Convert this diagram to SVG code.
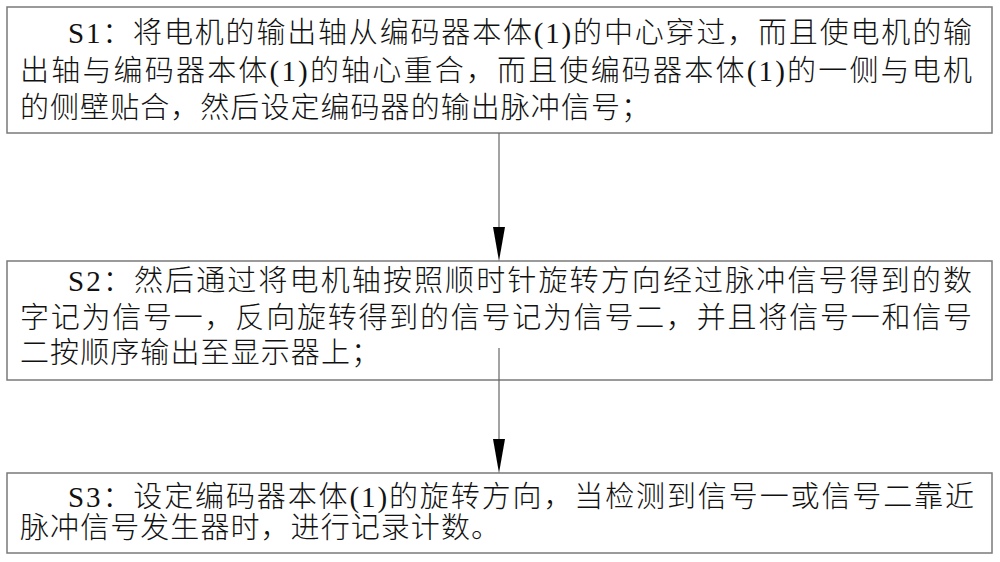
<svg xmlns="http://www.w3.org/2000/svg" width="1000" height="562" viewBox="0 0 1000 562">
<style>
.box{fill:#fff;stroke:#7a7a7a;stroke-width:1.5}
.t{font-family:"Liberation Serif","Noto Sans CJK SC",serif;font-size:29px;font-weight:300;fill:#111}
.ln{stroke:#666;stroke-width:1.2;fill:none}
.hd{fill:#000}
</style>
<rect width="1000" height="562" fill="#fff"/>
<g id="s1">
<rect class="box" x="7" y="7" width="985" height="126"/>
<text class="t" x="68" y="43" textLength="904" lengthAdjust="spacing">S1：将电机的输出轴从编码器本体(1)的中心穿过，而且使电机的输</text>
<text class="t" x="20" y="81" textLength="952" lengthAdjust="spacing">出轴与编码器本体(1)的轴心重合，而且使编码器本体(1)的一侧与电机</text>
<text class="t" x="20" y="118" textLength="630" lengthAdjust="spacing">的侧壁贴合，然后设定编码器的输出脉冲信号；</text>
</g>
<g id="s2">
<rect class="box" x="7" y="261" width="985" height="119"/>
<text class="t" x="68" y="291" textLength="904" lengthAdjust="spacing">S2：然后通过将电机轴按照顺时针旋转方向经过脉冲信号得到的数</text>
<text class="t" x="20" y="328" textLength="952" lengthAdjust="spacing">字记为信号一，反向旋转得到的信号记为信号二，并且将信号一和信号</text>
<text class="t" x="20" y="363" textLength="360" lengthAdjust="spacing">二按顺序输出至显示器上；</text>
</g>
<g id="s3">
<rect class="box" x="7" y="473" width="985" height="80"/>
<text class="t" x="68" y="507" textLength="906" lengthAdjust="spacing">S3：设定编码器本体(1)的旋转方向，当检测到信号一或信号二靠近</text>
<text class="t" x="20" y="538" textLength="480" lengthAdjust="spacing">脉冲信号发生器时，进行记录计数。</text>
</g>
<g id="connectors">
<line class="ln" x1="499" y1="133" x2="499" y2="230"/>
<polygon class="hd" points="493,227 505,227 499,261"/>
<line class="ln" x1="499" y1="348" x2="499" y2="442"/>
<polygon class="hd" points="493,439 505,439 499,473"/>
</g>
</svg>
